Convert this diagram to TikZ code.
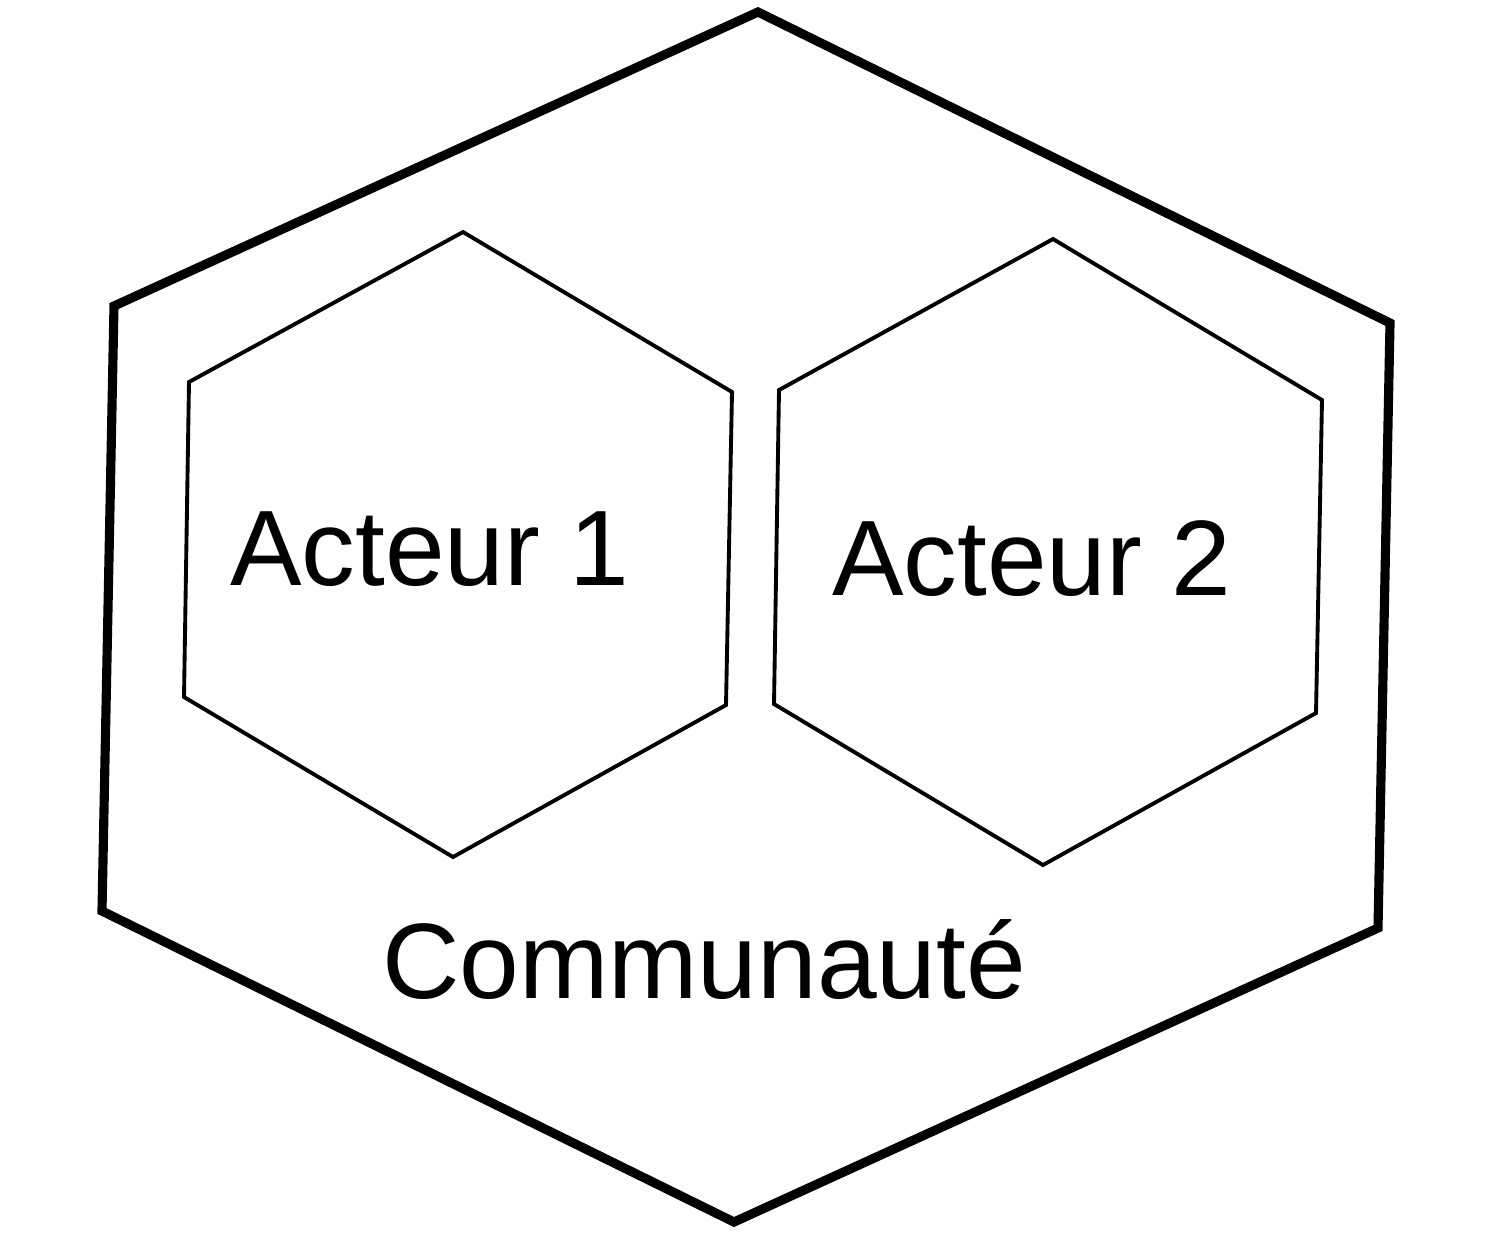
\documentclass[tikz,border=0pt]{standalone}
\usepackage{fontspec}
\setmainfont{Liberation Sans}

\begin{document}
\begin{tikzpicture}[x=0.01cm, y=-0.01cm,
        community/.style={draw=black, line width=2.6pt, line join=miter},
        actor/.style={draw=black, line width=1.1pt, line join=miter},
        label/.style={anchor=base, font=\fontsize{30.5}{36}\selectfont}
    ]
        \useasboundingbox (0, 0) rectangle (1494, 1238);
        % outer hexagon
        \draw[community] (758, 12) -- (1390, 323) -- (1378, 928) -- (734, 1222)
            -- (102, 911) -- (114, 306) -- cycle;
        % inner hexagons
        \draw[actor] (463, 232) -- (732, 392) -- (726, 705) -- (453, 857)
            -- (184, 697) -- (189, 382) -- cycle;
        \draw[actor] (1053, 239) -- (1322, 400) -- (1316, 713) -- (1043, 865)
            -- (774, 704) -- (779, 390) -- cycle;
        \node[label] (actor_one) at (430, 585) {Acteur 1};
        \node[label] (actor_two) at (1032, 595) {Acteur 2};
        \node[label] (community) at (704, 998) {Communauté};
    \end{tikzpicture}
\end{document}
